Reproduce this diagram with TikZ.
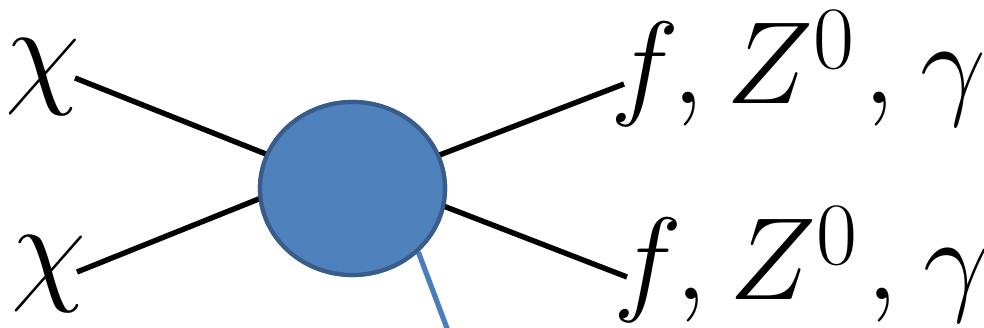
\RequirePackage{fix-cm}
\documentclass[tikz,border=0pt]{standalone}
\usetikzlibrary{shapes.geometric}
\DeclareMathSizes{117}{117}{89}{68}
\DeclareMathSizes{122}{122}{90}{70}
\definecolor{blobfill}{HTML}{4F81BD}
\definecolor{blobedge}{HTML}{385D8A}
\definecolor{legblue}{HTML}{4A7EBB}
% final-state label, with the superscript set a little lower than usual
\newcommand\finalstate{$f,\hspace{3pt}Z^{\lower7pt\hbox{$\scriptstyle 0$}}\hspace{8pt},\hspace{6pt}\gamma$}
\begin{document}
\begin{tikzpicture}[x=1pt,y=-1pt,
  leg/.style={line width=5.4pt,black},
  vertex/.style={ellipse,draw=blobedge,fill=blobfill,line width=4.2pt,
        minimum width=185pt,minimum height=173pt,inner sep=0pt},
  lbl/.style={inner sep=0pt,anchor=base west,font=\fontsize{117}{120}\selectfont},
  chilbl/.style={inner sep=0pt,font=\fontsize{122}{130}\selectfont}]
  \useasboundingbox (0,0) rectangle (984,328);
  % central vertex (placed first so the legs can refer to it)
  \node[vertex] (blob) at (352.5,188.5) {};
  % external particles
  \node[chilbl] (chi1) at (43,77) {$\chi$};
  \node[chilbl] (chi2) at (49,274) {$\chi$};
  \node[lbl] (out1) at (610,104) {\finalstate};
  \node[lbl] (out2) at (613,300) {\finalstate};
  % free ends of the legs; the inner ends sit under the vertex
  \coordinate (a1) at (75,78);
  \coordinate (a2) at (77,272);
  \coordinate (a2in) at (300,182.4);
  \coordinate (b1) at (624,84);
  \coordinate (b2) at (627,277);
  \coordinate (b2in) at (400,189.2);
  \coordinate (tail) at (449.5,335);
  \draw[leg] (a1) -- (blob.center);
  \draw[leg] (a2) -- (a2in);
  \draw[leg] (b1) -- (blob.center);
  \draw[leg] (b2) -- (b2in);
  \draw[line width=5.2pt,legblue] (blob.-44) -- (tail);
  % redraw the vertex on top of its legs
  \node[vertex] at (blob.center) {};
\end{tikzpicture}
\end{document}
